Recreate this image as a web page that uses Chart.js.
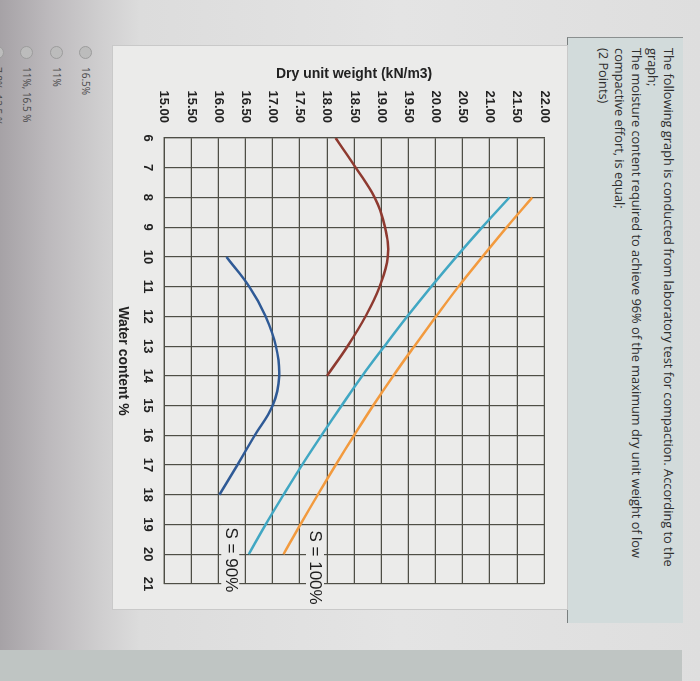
<!DOCTYPE html>
<html lang="en">
<head>
    <meta charset="UTF-8">
    <title>Compaction test</title>
    <script src="https://cdn.jsdelivr.net/npm/chart.js"></script>
    <style>
        html, body { margin: 0; padding: 0; width: 700px; height: 681px; overflow: hidden; background: #d8d8d8; }
        /* the photo is turned a quarter turn clockwise, so the page is laid out upright and rotated */
        #page {
            position: absolute; left: 0; top: 0; width: 681px; height: 700px;
            transform-origin: 0 0; transform: translateX(700px) rotate(90deg);
            background: linear-gradient(to bottom, #dedede 0px, #e4e4e4 300px, #dcdcdc 560px, #cfcecf 600px, #bdbabd 650px, #a6a2a6 700px);
            font-family: "Open Sans", "Noto Sans", sans-serif;
        }
        #strip { position: absolute; left: 650px; top: 18px; width: 31px; height: 682px; background: #bfc5c3; }
        .panel { position: absolute; left: 37px; top: 17px; width: 585px; height: 115px; background: #d2dbdb; border-left: 1px solid #8a8f8f; border-bottom: 1px solid #7a7f7f; }
        .question { position: absolute; left: 48px; top: 23px; white-space: nowrap; font-size: 12.8px; line-height: 16.2px; color: #2e2e2e; }
        .chartbox { position: absolute; left: 45px; top: 132px; width: 565px; height: 456px; background: #ebebea; border: 1px solid #c9c9c9; box-sizing: border-box; }
        canvas { position: absolute; left: 0; top: 0; }
        .opt { position: absolute; left: 46px; height: 14px; font-size: 10px; line-height: 14px; color: #4a4a4a; white-space: nowrap; }
        .opt span.dot { display: inline-block; width: 13px; height: 13px; border-radius: 50%; background: #bcbcbc; border: 1px solid #9c9c9c; vertical-align: middle; margin-right: 8px; box-sizing: border-box; }
        .opt span.txt { vertical-align: middle; }
    </style>
</head>
<body>
<div id="page">
    <div id="strip"></div>
    <div class="panel"></div>
    <div class="question">The following graph is conducted from laboratory test for compaction. According to the<br>graph;<br>The moisture content required to achieve 96% of the maximum dry unit weight of low<br>compactive effort, is equal;<br>(2 Points)</div>
    <div class="chartbox"><canvas id="compChart" width="565" height="456"></canvas></div>
    <div class="opt" style="top:606px"><span class="dot"></span><span class="txt">16.5%</span></div>
    <div class="opt" style="top:635px"><span class="dot"></span><span class="txt">11%</span></div>
    <div class="opt" style="top:665px"><span class="dot"></span><span class="txt">11%, 16.5 %</span></div>
    <div class="opt" style="top:694px"><span class="dot"></span><span class="txt">7.8%, 12.5 %</span></div>
</div>
<script>
    // water content (%) and dry unit weight (kN/m3)
    const highEffortW = [6, 7, 8, 9, 10, 11, 12, 13, 14];
    const highEffortGd = [18.16, 18.53, 18.88, 19.07, 19.12, 18.97, 18.71, 18.38, 18.00];
    const lowEffortW = [10, 11, 12, 13, 14, 15, 16, 17, 18];
    const lowEffortGd = [16.15, 16.57, 16.87, 17.06, 17.12, 17.00, 16.67, 16.35, 16.02];
    const satW = [8, 9, 10, 11, 12, 13, 14, 15, 16, 17, 18, 19, 20];
    const sat100Gd = [21.78, 21.31, 20.86, 20.42, 20.01, 19.61, 19.22, 18.85, 18.50, 18.16, 17.83, 17.51, 17.20];
    const sat90Gd = [21.36, 20.86, 20.38, 19.92, 19.48, 19.06, 18.65, 18.27, 17.90, 17.54, 17.20, 16.87, 16.56];
    const noteText = ['S = 100%', 'S = 90%'];
    const noteW = [19.2, 19.1];
    const noteGd = [17.78, 16.22];

    const pts = (xs, ys) => xs.map((x, i) => ({ x: x, y: ys[i] }));

    const notes = {
        id: 'notes',
        afterDatasetsDraw(chart) {
            const { ctx, scales: { x, y } } = chart;
            ctx.save();
            ctx.font = '17px "Liberation Sans", Arial, sans-serif';
            ctx.textBaseline = 'middle';
            ctx.textAlign = 'left';
            noteText.forEach((t, i) => {
                const px = x.getPixelForValue(noteW[i]);
                const py = y.getPixelForValue(noteGd[i]);
                const w = ctx.measureText(t).width;
                ctx.fillStyle = '#ebebea';
                ctx.fillRect(px - 2, py - 9, w + 4, 18);
                ctx.fillStyle = '#1e1e1e';
                ctx.fillText(t, px, py);
            });
            ctx.restore();
        }
    };

    const line = (data, color) => ({ data: data, borderColor: color, borderWidth: 2.5, pointRadius: 0, tension: 0.4, fill: false });

    new Chart(document.getElementById('compChart'), {
        type: 'line',
        data: {
            datasets: [
                line(pts(highEffortW, highEffortGd), '#8e3a30'),
                line(pts(lowEffortW, lowEffortGd), '#2f5a96'),
                line(pts(satW, sat90Gd), '#41a7c3'),
                line(pts(satW, sat100Gd), '#f29a3e')
            ]
        },
        options: {
            responsive: false,
            animation: false,
            layout: { padding: { top: 18, right: 27, left: 0, bottom: 0 } },
            plugins: { legend: { display: false }, tooltip: { enabled: false } },
            scales: {
                x: {
                    type: 'linear', min: 6, max: 21,
                    afterFit: s => { s.height = 53; },
                    grid: { color: '#4e4e46', lineWidth: 1.2, drawTicks: false },
                    border: { color: '#4e4e46', width: 1.2 },
                    ticks: { stepSize: 1, padding: 9, color: '#222', font: { family: '"Liberation Sans", Arial', size: 13, weight: 'bold' } },
                    title: { display: true, text: 'Water content %', color: '#222', padding: { top: 0, bottom: 3 }, font: { family: '"Liberation Sans", Arial', size: 14, weight: 'bold' } }
                },
                y: {
                    type: 'linear', min: 15, max: 22,
                    afterFit: s => { s.width = 92; },
                    grid: { color: '#4e4e46', lineWidth: 1.2, drawTicks: false },
                    border: { color: '#4e4e46', width: 1.2 },
                    ticks: { stepSize: 0.5, padding: 15, color: '#222', callback: v => v.toFixed(2), font: { family: '"Liberation Sans", Arial', size: 13, weight: 'bold' } },
                    title: { display: true, text: 'Dry unit weight (kN/m3)', color: '#222', padding: { top: 20, bottom: 0 }, font: { family: '"Liberation Sans", Arial', size: 14, weight: 'bold' } }
                }
            }
        },
        plugins: [notes]
    });
</script>
</body>
</html>
